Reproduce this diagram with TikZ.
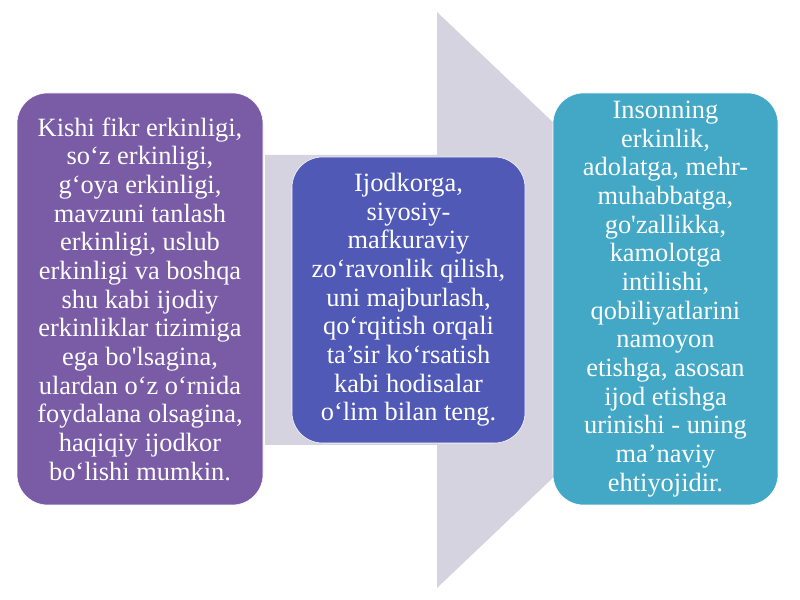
\documentclass[tikz,border=0pt]{standalone}
\usepackage{fontspec}
\setmainfont{Liberation Serif}
\usepackage{xcolor}
\usetikzlibrary{positioning}
\definecolor{idea-purple}{RGB}{122,92,166}
\definecolor{idea-blue}{RGB}{80,90,182}
\definecolor{idea-teal}{RGB}{66,168,197}
\definecolor{arrow-gray}{RGB}{214,211,225}
\tikzset{
    idea-box/.style = {draw=white, thin, rectangle, rounded corners=23pt, text=white, align=center, inner sep=0pt,
        font=\fontsize{19.8}{21.5}\selectfont},
    side-box/.style = {idea-box, minimum height=309pt},
}

\begin{document}
\begin{tikzpicture}[x=0.75pt, y=0.75pt]
\useasboundingbox (0,0) rectangle (800,600);
% background arrow
\fill[arrow-gray] (265,445) -- (437,445) -- (437,588) -- (740,300) -- (437,12) -- (437,155) -- (265,155) -- cycle;
\node[side-box, fill=idea-purple, minimum width=184.5pt] (freedom) at (140,301) {Kishi fikr erkinligi,\\
    so‘z erkinligi,\\
    g‘oya erkinligi,\\
    mavzuni tanlash\\
    erkinligi, uslub\\
    erkinligi va boshqa\\
    shu kabi ijodiy\\
    erkinliklar tizimiga\\
    ega bo\textquotesingle lsagina,\\
    ulardan o‘z o‘rnida\\
    foydalana olsagina,\\
    haqiqiy ijodkor\\
    bo‘lishi mumkin.};
\node[idea-box, fill=idea-blue, minimum width=174.75pt, minimum height=214.5pt] (violence) at (408.5,300) {Ijodkorga,\\
    siyosiy-\\
    mafkuraviy\\
    zo‘ravonlik qilish,\\
    uni majburlash,\\
    qo‘rqitish orqali\\
    ta’sir ko‘rsatish\\
    kabi hodisalar\\
    o‘lim bilan teng.};
\node[side-box, fill=idea-teal, minimum width=168.75pt] (need) at (665.5,301) {Insonning\\
    erkinlik,\\
    adolatga, mehr-\\
    muhabbatga,\\
    go\textquotesingle zallikka,\\
    kamolotga\\
    intilishi,\\
    qobiliyatlarini\\
    namoyon\\
    etishga, asosan\\
    ijod etishga\\
    urinishi - uning\\
    ma’naviy\\
    ehtiyojidir.};
\end{tikzpicture}
\end{document}
